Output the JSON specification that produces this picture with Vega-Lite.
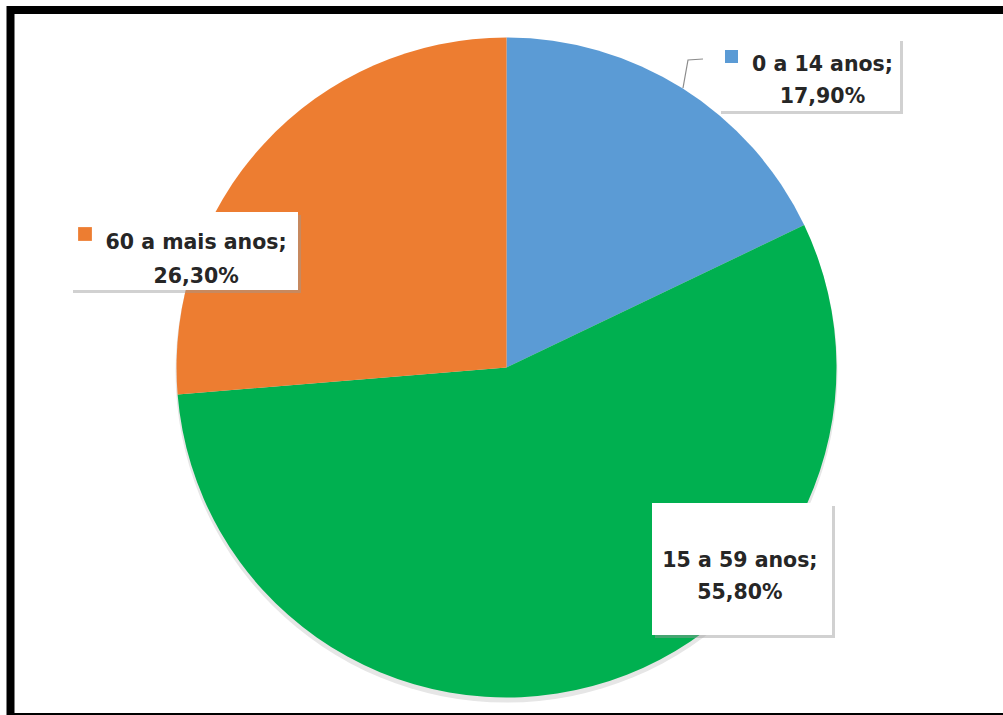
{
  "$schema": "https://vega.github.io/schema/vega-lite/v6.json",
  "width": 993,
  "height": 705,
  "autosize": {"type": "none"},
  "padding": {"left": 10, "top": 10, "right": 0, "bottom": 0},
  "background": "white",
  "view": {"stroke": null},
  "data": {
    "values": [
      {"faixa": "0 a 14 anos", "pct": 17.9, "rotulo": ["0 a 14 anos;", "17,90%"]},
      {"faixa": "15 a 59 anos", "pct": 55.8, "rotulo": ["15 a 59 anos;", "55,80%"]},
      {"faixa": "60 a mais anos", "pct": 26.3, "rotulo": ["60 a mais anos;", "26,30%"]}
    ]
  },
  "layer": [
    {
      "transform": [{"filter": "datum.faixa === '0 a 14 anos'"}],
      "mark": {"type": "point", "shape": "M500,-352.5H-496V354.5H500", "size": 4, "filled": false, "stroke": "black", "strokeWidth": 8, "opacity": 1},
      "encoding": {}
    },
    {
      "mark": {"type": "arc", "outerRadius": 331, "yOffset": 9, "color": "#e6e6e6"},
      "encoding": {"theta": {"aggregate": "sum", "field": "pct", "type": "quantitative"}}
    },
    {
      "mark": {"type": "arc", "outerRadius": 330, "yOffset": 5},
      "encoding": {
        "theta": {"field": "pct", "type": "quantitative", "stack": true},
        "order": {"field": "faixa", "sort": "ascending"},
        "color": {"field": "faixa", "type": "nominal", "legend": null,
          "scale": {"domain": ["0 a 14 anos", "15 a 59 anos", "60 a mais anos"], "range": ["#5B9BD5", "#00B050", "#ED7D31"]}}
      }
    },
    {
      "transform": [{"filter": "datum.faixa === '0 a 14 anos'"}],
      "mark": {"type": "point", "shape": "M0,0L5,-28L20,-29", "size": 4, "filled": false, "stroke": "#8c8c8c", "strokeWidth": 1.2, "opacity": 1, "xOffset": 176.5, "yOffset": -274.5},
      "encoding": {}
    },
    {
      "transform": [{"filter": "datum.faixa === '0 a 14 anos'"}],
      "mark": {"type": "point", "shape": "M-1,-0.401H1V0.401H-1Z", "size": 33124, "filled": true, "color": "#9a9a9a", "opacity": 0.45, "strokeWidth": 0, "xOffset": 305.5, "yOffset": -285},
      "encoding": {}
    },
    {
      "transform": [{"filter": "datum.faixa === '15 a 59 anos'"}],
      "mark": {"type": "point", "shape": "M-1,-0.733H1V0.733H-1Z", "size": 32400, "filled": true, "color": "#9a9a9a", "opacity": 0.45, "strokeWidth": 0, "xOffset": 238.5, "yOffset": 209.5},
      "encoding": {}
    },
    {
      "transform": [{"filter": "datum.faixa === '60 a mais anos'"}],
      "mark": {"type": "point", "shape": "M-1,-0.342H1V0.342H-1Z", "size": 51984, "filled": true, "color": "#9a9a9a", "opacity": 0.45, "strokeWidth": 0, "xOffset": -319.5, "yOffset": -108.5},
      "encoding": {}
    },
    {
      "transform": [{"filter": "datum.faixa === '0 a 14 anos'"}],
      "mark": {"type": "point", "shape": "M-1,-0.401H1V0.401H-1Z", "size": 33124, "filled": true, "color": "white", "opacity": 1, "strokeWidth": 0, "xOffset": 302.5, "yOffset": -288},
      "encoding": {}
    },
    {
      "transform": [{"filter": "datum.faixa === '15 a 59 anos'"}],
      "mark": {"type": "point", "shape": "M-1,-0.733H1V0.733H-1Z", "size": 32400, "filled": true, "color": "white", "opacity": 1, "strokeWidth": 0, "xOffset": 235.5, "yOffset": 206.5},
      "encoding": {}
    },
    {
      "transform": [{"filter": "datum.faixa === '60 a mais anos'"}],
      "mark": {"type": "point", "shape": "M-1,-0.342H1V0.342H-1Z", "size": 51984, "filled": true, "color": "white", "opacity": 1, "strokeWidth": 0, "xOffset": -322.5, "yOffset": -111.5},
      "encoding": {}
    },
    {
      "transform": [{"filter": "datum.faixa === '0 a 14 anos'"}],
      "mark": {"type": "point", "shape": "square", "size": 169, "filled": true, "opacity": 1, "strokeWidth": 0, "xOffset": 225, "yOffset": -306},
      "encoding": {"color": {"field": "faixa", "type": "nominal", "legend": null}}
    },
    {
      "transform": [{"filter": "datum.faixa === '60 a mais anos'"}],
      "mark": {"type": "point", "shape": "square", "size": 190, "filled": true, "opacity": 1, "strokeWidth": 0, "xOffset": -421.5, "yOffset": -128.5},
      "encoding": {"color": {"field": "faixa", "type": "nominal", "legend": null}}
    },
    {
      "mark": {"type": "text", "font": "DejaVu Sans", "fontWeight": "bold", "fontSize": 20.5, "lineHeight": 32.5, "color": "#262626", "radius": 331, "align": "center", "dx": 139.5, "dy": -17.5},
      "encoding": {
        "theta": {"field": "pct", "type": "quantitative", "stack": true},
        "order": {"field": "faixa", "sort": "ascending"},
        "detail": {"field": "faixa", "type": "nominal"},
        "text": {"condition": {"test": "datum.faixa === '0 a 14 anos'", "field": "rotulo", "type": "nominal"}, "value": ""}
      }
    },
    {
      "mark": {"type": "text", "font": "DejaVu Sans", "fontWeight": "bold", "fontSize": 20.5, "lineHeight": 32.5, "color": "#262626", "radius": 331, "align": "center", "dx": 147.1, "dy": -121.5},
      "encoding": {
        "theta": {"field": "pct", "type": "quantitative", "stack": true},
        "order": {"field": "faixa", "sort": "ascending"},
        "detail": {"field": "faixa", "type": "nominal"},
        "text": {"condition": {"test": "datum.faixa === '15 a 59 anos'", "field": "rotulo", "type": "nominal"}, "value": ""}
      }
    },
    {
      "mark": {"type": "text", "font": "DejaVu Sans", "fontWeight": "bold", "fontSize": 20.5, "lineHeight": 33.5, "color": "#262626", "radius": 331, "align": "center", "dx": -67, "dy": 105.3},
      "encoding": {
        "theta": {"field": "pct", "type": "quantitative", "stack": true},
        "order": {"field": "faixa", "sort": "ascending"},
        "detail": {"field": "faixa", "type": "nominal"},
        "text": {"condition": {"test": "datum.faixa === '60 a mais anos'", "field": "rotulo", "type": "nominal"}, "value": ""}
      }
    }
  ]
}
